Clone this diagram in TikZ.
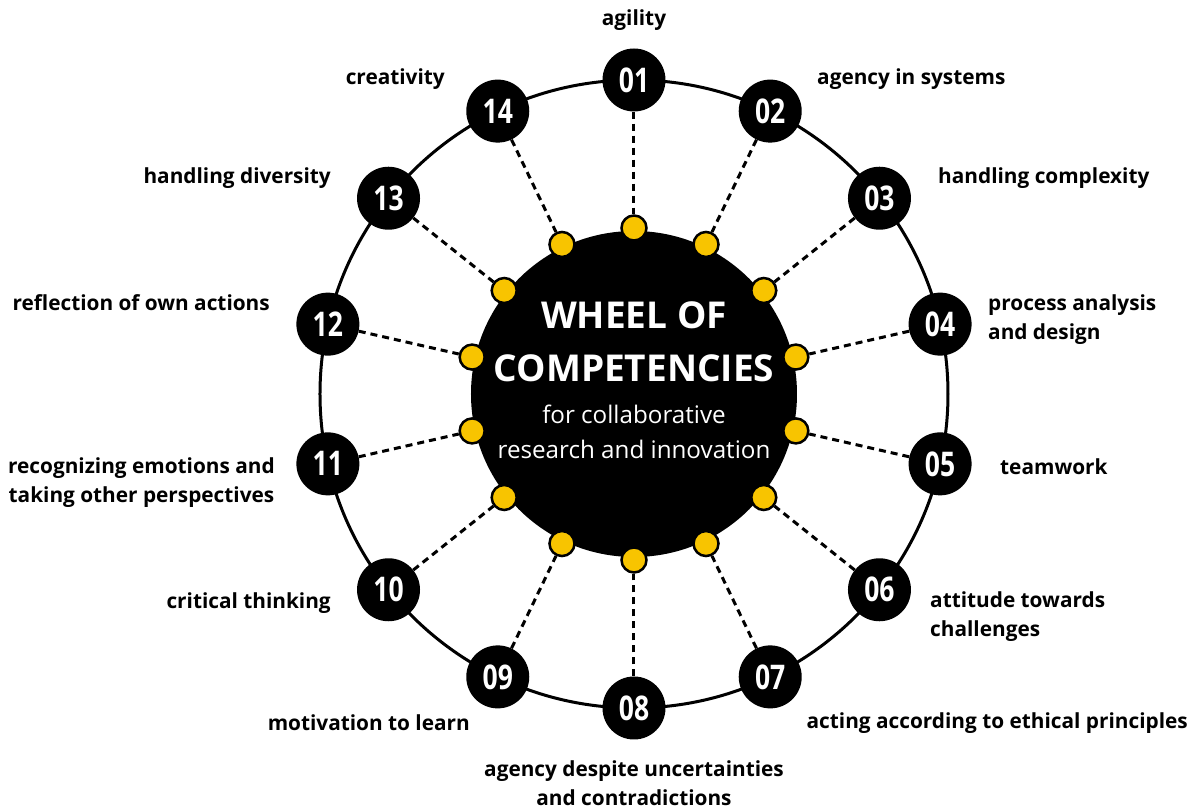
\documentclass[tikz,border=0pt]{standalone}
\usepackage{fontspec}
\setmainfont{Open Sans}
\newfontfamily\numfont[FakeStretch=0.78]{Open Sans}
\definecolor{dotyellow}{HTML}{F8C400}
\tikzset{
  numnode/.style={circle, fill=black, text=white, minimum size=63pt, inner sep=0pt,
    font=\numfont\bfseries\fontsize{34}{34}\selectfont},
  dotnode/.style={circle, fill=dotyellow, draw=black, line width=2.5pt, minimum size=25pt, inner sep=0pt},
  link/.style={line width=3pt, dash pattern=on 7pt off 5pt},
  lab/.style={font=\bfseries\fontsize{20.8}{29}\selectfont, inner sep=0pt},
}
\begin{document}
\begin{tikzpicture}[x=1pt,y=1pt]
  \useasboundingbox (-634,-416) rectangle (561,394);
  \draw[line width=3pt] (0,0) circle (314);
  \node[circle, fill=black, minimum size=326pt, inner sep=0pt] (core) at (0,0) {};
  \foreach \i/\num in {1/01,2/02,3/03,4/04,5/05,6/06,7/07,8/08,9/09,10/10,11/11,12/12,13/13,14/14} {
    \node[numnode] (num\i) at ({90-(\i-1)*360/14}:314) {\num};
    \node[dotnode] (dot\i) at ({90-(\i-1)*360/14}:166) {};
    \draw[link] (num\i) -- (dot\i);
  }
  \node[font=\bfseries\fontsize{37}{53}\selectfont, text=white, align=center] (title) at (0,52) {WHEEL OF\\COMPETENCIES};
  \node[font=\fontsize{24.2}{35}\selectfont, text=white, align=center] (subtitle) at (0,-38) {for collaborative\\research and innovation};
  % competency labels
  \foreach \nm/\pos/\anc/\al/\txt in {
    1/{(0,374)}/center/center/{agility},
    2/{(183,315)}/west/left/{agency in systems},
    3/{(304,216)}/west/left/{handling complexity},
    4/{(354,74)}/west/left/{process analysis\\and design},
    5/{(366,-73)}/west/left/{teamwork},
    6/{(296,-223)}/west/left/{attitude towards\\challenges},
    7/{(554,-329)}/east/right/{acting according to ethical principles},
    8/{(0,-389)}/center/center/{agency despite uncertainties\\and contradictions},
    9/{(-164,-329)}/east/right/{motivation to learn},
    10/{(-303,-209)}/east/right/{critical thinking},
    11/{(-359,-89)}/east/center/{recognizing emotions and\\taking other perspectives},
    12/{(-364,91)}/east/right/{reflection of own actions},
    13/{(-303,216)}/east/right/{handling diversity},
    14/{(-189,315)}/east/right/{creativity}} {
    \node[lab, anchor=\anc, align=\al] (lab\nm) at \pos {\txt};
  }
\end{tikzpicture}
\end{document}
